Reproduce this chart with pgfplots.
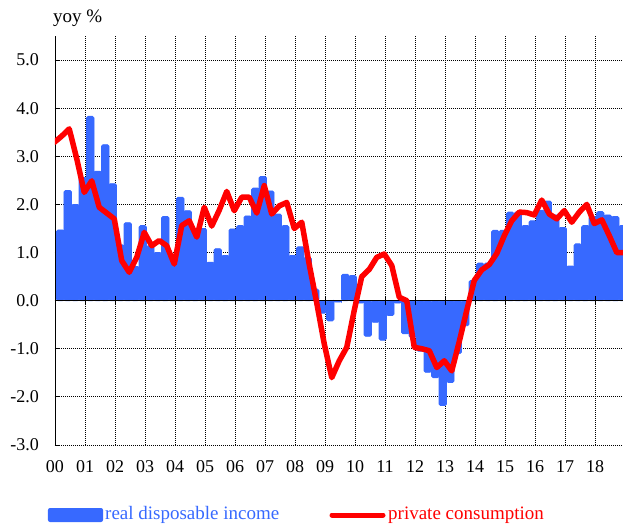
\documentclass[border=0pt]{standalone}
\usepackage{fontspec}
\setmainfont{Liberation Serif}
\usepackage{pgfplots}
\pgfplotsset{compat=1.18}
\usepackage{pgfplotstable}
\definecolor{barblue}{RGB}{55,105,255}
\definecolor{linered}{RGB}{255,0,0}

% real disposable income, quarterly 2000Q1-2018Q4 (index i = quarter)
\pgfplotstableread{
i y
0 1.47
1 2.29
2 2.00
3 2.56
4 3.83
5 2.69
6 3.24
7 2.43
8 1.16
9 1.62
10 0.71
11 1.56
12 1.14
13 1.00
14 1.75
15 0.95
16 2.15
17 1.87
18 1.50
19 1.50
20 0.80
21 1.08
22 0.94
23 1.49
24 1.56
25 1.76
26 2.34
27 2.58
28 2.28
29 1.80
30 1.56
31 0.94
32 1.12
33 0.90
34 0.24
35 -0.26
36 -0.42
37 -0.03
38 0.55
39 0.52
40 -0.05
41 -0.74
42 -0.45
43 -0.82
44 -0.31
45 -0.05
46 -0.69
47 -0.76
48 -1.05
49 -1.49
50 -1.60
51 -2.18
52 -1.70
53 -1.10
54 -0.52
55 0.42
56 0.78
57 0.78
58 1.46
59 1.46
60 1.84
61 1.84
62 1.56
63 1.66
64 1.88
65 2.07
66 1.78
67 1.52
68 0.72
69 1.18
70 1.56
71 1.75
72 1.85
73 1.78
74 1.75
75 1.56
}\rdi

% private consumption
\pgfplotstableread{
k y
0 3.29
1 3.42
2 3.57
3 2.95
4 2.25
5 2.49
6 1.94
7 1.82
8 1.70
9 0.83
10 0.59
11 0.90
12 1.42
13 1.14
14 1.25
15 1.14
16 0.76
17 1.56
18 1.66
19 1.32
20 1.94
21 1.55
22 1.88
23 2.27
24 1.87
25 2.15
26 2.15
27 1.82
28 2.39
29 1.80
30 1.97
31 2.04
32 1.50
33 1.63
34 0.75
35 -0.05
36 -0.90
37 -1.60
38 -1.25
39 -0.97
40 -0.20
41 0.50
42 0.65
43 0.90
44 0.97
45 0.73
46 0.07
47 0.00
48 -0.97
49 -1.00
50 -1.04
51 -1.39
52 -1.25
53 -1.46
54 -0.85
55 -0.20
56 0.42
57 0.64
58 0.75
59 0.98
60 1.35
61 1.66
62 1.84
63 1.83
64 1.78
65 2.09
66 1.80
67 1.70
68 1.87
69 1.63
70 1.84
71 2.00
72 1.60
73 1.68
74 1.35
75 1.00
76 1.00
}\pc

\begin{document}
\begin{tikzpicture}
\useasboundingbox (-55bp,-79bp) rectangle (568bp,445bp);
\begin{axis}[
  at={(0,0)}, anchor=south west,
  scale only axis, width=568bp, height=409bp,
  xmin=0, xmax=75.73, ymin=-3, ymax=5.5,
  axis lines*=left,
  axis line style={-, black, line width=0.8bp},
  x axis line style={draw=none},
  xtick={0,4,...,72},
  xticklabels={00,01,02,03,04,05,06,07,08,09,10,11,12,13,14,15,16,17,18},
  ytick={-3,-2,...,5},
  yticklabels={-3.0,-2.0,-1.0,0.0,1.0,2.0,3.0,4.0,5.0},
  xtick style={draw=none},
  ytick style={black, line width=0.8bp},
  tick align=inside,
  major tick length=5bp,
  grid=major,
  major grid style={black, line width=0.9bp, dash pattern=on 1bp off 1bp},
  tick label style={font=\fontsize{18bp}{20bp}\selectfont, text=black},
  xticklabel style={inner sep=0pt, anchor=north, yshift=-15bp},
  yticklabel style={inner sep=0pt, anchor=east, xshift=-16bp},
]
\addplot[ybar, bar width=1, bar shift=0pt, fill=barblue, draw=barblue,
  line width=0.8bp, rounded corners=1.5bp]
  table[x expr=\thisrow{i}+0.7, y=y] {\rdi};
\draw[black, line width=0.8bp] (axis cs:0,0) -- (axis cs:75.73,0);
\pgfplotsinvokeforeach{4,8,...,72}{
  \draw[black, line width=0.8bp] (axis cs:#1,-0.1) -- (axis cs:#1,0.1);
}
\addplot[linered, line width=5.5bp, line join=round, line cap=round, mark=none]
  table[x expr=\thisrow{k}-0.1, y=y] {\pc};
\end{axis}
\node[anchor=west, inner sep=0pt, font=\fontsize{19bp}{21bp}\selectfont] at (-2bp,427bp) {yoy \%};
\fill[barblue, rounded corners=2bp] (-7bp,-77bp) rectangle (48bp,-63bp);
\node[anchor=west, inner sep=0pt, text=barblue, font=\fontsize{19bp}{21bp}\selectfont] at (50bp,-70bp) {real disposable income};
\draw[linered, line width=5bp, line cap=round] (277bp,-70bp) -- (328bp,-70bp);
\node[anchor=west, inner sep=0pt, text=linered, font=\fontsize{19bp}{21bp}\selectfont] at (333bp,-70bp) {private consumption};
\end{tikzpicture}
\end{document}
